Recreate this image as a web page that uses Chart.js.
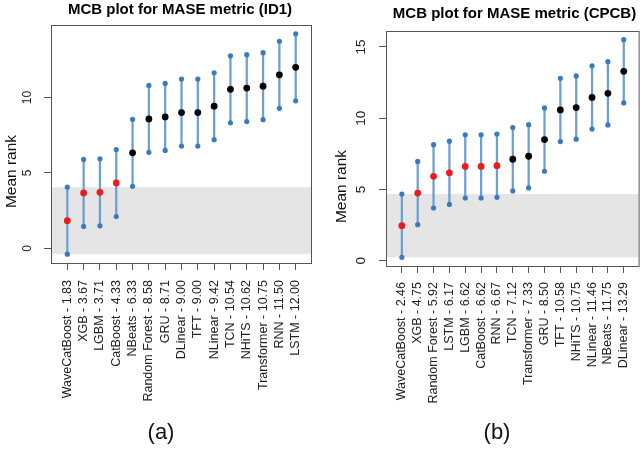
<!DOCTYPE html>
<html><head><meta charset="utf-8">
<script src="https://cdn.jsdelivr.net/npm/chart.js@4.4.1/dist/chart.umd.min.js"></script>
<style>
html,body{margin:0;padding:0;background:#fff;overflow:hidden;width:642px;height:453px;position:relative;}
.wrap{position:absolute;top:0;}
canvas{display:block;}
.cap{position:absolute;font-family:"Liberation Sans",Arial,sans-serif;font-size:22px;color:#111;transform:translate(-50%,-50%);white-space:nowrap;}
</style></head><body>
<div class="wrap" style="left:0"><canvas id="c1" width="322" height="453"></canvas></div>
<div class="wrap" style="left:322px"><canvas id="c2" width="326" height="453"></canvas></div>
<div class="cap" style="left:161px;top:432px">(a)</div>
<div class="cap" style="left:497px;top:432px">(b)</div>
<script>
// ---- Data: panel (a) ID1 ----
const id1Models = ["WaveCatBoost - 1.83","XGB - 3.67","LGBM - 3.71","CatBoost - 4.33","NBeats - 6.33","Random Forest - 8.58","GRU - 8.71","DLinear - 9.00","TFT - 9.00","NLinear - 9.42","TCN - 10.54","NHiTS - 10.62","Transformer - 10.75","RNN - 11.50","LSTM - 12.00"];
const id1Means = [1.83,3.67,3.71,4.33,6.33,8.58,8.71,9.00,9.00,9.42,10.54,10.62,10.75,11.50,12.00];
const id1Lower = [-0.39,1.45,1.49,2.11,4.11,6.36,6.49,6.78,6.78,7.20,8.32,8.40,8.53,9.28,9.78];
const id1Upper = [4.05,5.89,5.93,6.55,8.55,10.80,10.93,11.22,11.22,11.64,12.76,12.84,12.97,13.72,14.22];
const id1YTicks = [0,5,10];

// ---- Data: panel (b) CPCB ----
const cpcbModels = ["WaveCatBoost - 2.46","XGB - 4.75","Random Forest - 5.92","LSTM - 6.17","LGBM - 6.62","CatBoost - 6.62","RNN - 6.67","TCN - 7.12","Transformer - 7.33","GRU - 8.50","TFT - 10.58","NHiTS - 10.75","NLinear - 11.46","NBeats - 11.75","DLinear - 13.29"];
const cpcbMeans = [2.46,4.75,5.92,6.17,6.62,6.62,6.67,7.12,7.33,8.50,10.58,10.75,11.46,11.75,13.29];
const cpcbLower = [0.24,2.53,3.70,3.95,4.40,4.40,4.45,4.90,5.11,6.28,8.36,8.53,9.24,9.53,11.07];
const cpcbUpper = [4.68,6.97,8.14,8.39,8.84,8.84,8.89,9.34,9.55,10.72,12.80,12.97,13.68,13.97,15.51];
const cpcbYTicks = [0,5,10,15];

const FONT = '"Liberation Sans", Arial, sans-serif';

function makeChart(canvasId, title, models, means, lower, upper, yTicks, L) {
  const lo = Math.min(...lower), hi = Math.max(...upper);
  const pad = (hi - lo) * 0.04;
  const bandPlugin = {
    id: 'band',
    beforeDatasetsDraw(chart) {
      const {ctx, chartArea: a, scales: {y}} = chart;
      const t = y.getPixelForValue(upper[0]);
      const b = y.getPixelForValue(lower[0]);
      ctx.save();
      ctx.fillStyle = '#e5e5e5';
      ctx.fillRect(a.left + 1, t, a.right - a.left - 2, b - t);
      ctx.restore();
    },
    afterDraw(chart) {
      const {ctx, chartArea: a, scales: {y}} = chart;
      ctx.save();
      ctx.strokeStyle = '#555';
      ctx.lineWidth = 1;
      ctx.strokeRect(a.left + 0.5, a.top + 0.5, a.right - a.left - 1, a.bottom - a.top);
      ctx.fillStyle = '#222';
      ctx.textAlign = 'center';
      ctx.textBaseline = 'middle';
      ctx.font = L.yTickFont + 'px ' + FONT;
      yTicks.forEach(v => {
        const py = y.getPixelForValue(v);
        ctx.save();
        ctx.translate(L.yTickX, py);
        ctx.rotate(-Math.PI / 2);
        ctx.fillText(String(v), 0, 0);
        ctx.restore();
      });
      ctx.fillStyle = '#111';
      ctx.font = '15.5px ' + FONT;
      ctx.translate(L.yLabelX, L.yLabelY);
      ctx.rotate(-Math.PI / 2);
      ctx.fillText('Mean rank', 0, 0);
      ctx.restore();
    }
  };
  return new Chart(document.getElementById(canvasId), {
    type: 'bar',
    data: {
      datasets: [
        {
          type: 'bar',
          data: models.map((m, i) => ({x: i + 1, y: [lower[i], upper[i]]})),
          backgroundColor: '#6c9fd3',
          borderWidth: 0,
          barThickness: 1.6,
          order: 3
        },
        {
          type: 'scatter',
          data: models.map((m, i) => ({x: i + 1, y: lower[i]})).concat(models.map((m, i) => ({x: i + 1, y: upper[i]}))),
          backgroundColor: '#3a7bc0',
          borderWidth: 0,
          pointRadius: 2.6,
          order: 2
        },
        {
          type: 'scatter',
          data: models.map((m, i) => ({x: i + 1, y: means[i]})),
          backgroundColor: models.map((m, i) => lower[i] < upper[0] ? '#ee1b1b' : '#000000'),
          borderWidth: 0,
          pointRadius: 3.4,
          order: 1
        }
      ]
    },
    options: {
      responsive: false,
      animation: false,
      events: [],
      layout: {padding: {left: L.pl, right: L.pr, top: 0, bottom: 0}},
      plugins: {
        legend: {display: false},
        tooltip: {enabled: false},
        title: {
          display: true, text: title, color: '#000',
          font: {family: FONT, size: 15, weight: 'bold'},
          padding: {top: L.tPadTop, bottom: L.tPadBottom}
        }
      },
      scales: {
        x: {
          type: 'linear', min: 0, max: 16, offset: false,
          afterFit: s => { s.height = L.xAxisH; },
          afterBuildTicks: s => { s.ticks = models.map((m, i) => ({value: i + 1})); },
          grid: {drawOnChartArea: false, drawTicks: true, tickLength: 7, color: '#555', offset: false},
          border: {display: false},
          ticks: {
            autoSkip: false, minRotation: 90, maxRotation: 90, padding: L.xPad,
            color: '#222', font: {family: FONT, size: 12.5},
            callback: v => models[v - 1]
          }
        },
        y: {
          type: 'linear', min: lo - pad, max: hi + pad,
          afterFit: s => { s.width = L.yAxisW; },
          afterBuildTicks: s => { s.ticks = yTicks.map(v => ({value: v})); },
          grid: {drawOnChartArea: false, drawTicks: true, tickLength: 7, color: '#555'},
          border: {display: false},
          ticks: {display: false}
        }
      }
    },
    plugins: [bandPlugin]
  });
}

makeChart('c1', 'MCB plot for MASE metric (ID1)', id1Models, id1Means, id1Lower, id1Upper, id1YTicks,
  {pl: 48, pr: 10, yAxisW: 3, tPadTop: 1, tPadBottom: 6, xAxisH: 190, xPad: 10, yTickFont: 12, yTickX: 28, yLabelX: 12, yLabelY: 171.5});
makeChart('c2', 'MCB plot for MASE metric (CPCB)', cpcbModels, cpcbMeans, cpcbLower, cpcbUpper, cpcbYTicks,
  {pl: 63, pr: 4, yAxisW: 1, tPadTop: 5, tPadBottom: 8, xAxisH: 187, xPad: 9, yTickFont: 13.5, yTickX: 39.7, yLabelX: 20, yLabelY: 186.5});
</script>
</body></html>
